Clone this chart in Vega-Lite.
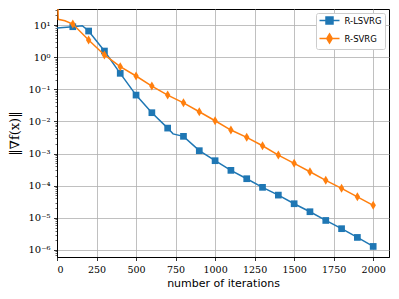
{
  "$schema": "https://vega.github.io/schema/vega-lite/v6.json",
  "width": 332,
  "height": 248,
  "autosize": {"type": "none"},
  "padding": {"left": 57, "top": 9, "right": 10, "bottom": 42},
  "background": "white",
  "config": {
    "view": {"stroke": "black", "strokeWidth": 1},
    "axis": {
      "domainColor": "black",
      "domainWidth": 1,
      "tickColor": "black",
      "tickSize": 3.5,
      "tickWidth": 0.8,
      "labelFont": "DejaVu Serif",
      "labelFontSize": 9.5,
      "labelColor": "black",
      "labelPadding": 3.5,
      "gridColor": "#b0b0b0",
      "gridWidth": 0.8,
      "titleFont": "DejaVu Sans",
      "titleFontSize": 11,
      "titleFontWeight": "normal",
      "titleColor": "black"
    }
  },
  "data": {
    "values": [
      {"series": "R-LSVRG", "iter": 0, "value": 8.07},
      {"series": "R-LSVRG", "iter": 100, "value": 8.85},
      {"series": "R-LSVRG", "iter": 160, "value": 9.5},
      {"series": "R-LSVRG", "iter": 200, "value": 6.5},
      {"series": "R-LSVRG", "iter": 300, "value": 1.55},
      {"series": "R-LSVRG", "iter": 400, "value": 0.314},
      {"series": "R-LSVRG", "iter": 500, "value": 0.066},
      {"series": "R-LSVRG", "iter": 600, "value": 0.0187},
      {"series": "R-LSVRG", "iter": 700, "value": 0.0062},
      {"series": "R-LSVRG", "iter": 734, "value": 0.0041},
      {"series": "R-LSVRG", "iter": 800, "value": 0.00344},
      {"series": "R-LSVRG", "iter": 900, "value": 0.00123},
      {"series": "R-LSVRG", "iter": 1000, "value": 0.0006},
      {"series": "R-LSVRG", "iter": 1100, "value": 0.0003},
      {"series": "R-LSVRG", "iter": 1200, "value": 0.000165},
      {"series": "R-LSVRG", "iter": 1300, "value": 0.000089},
      {"series": "R-LSVRG", "iter": 1400, "value": 0.000051},
      {"series": "R-LSVRG", "iter": 1500, "value": 0.0000275},
      {"series": "R-LSVRG", "iter": 1600, "value": 0.0000155},
      {"series": "R-LSVRG", "iter": 1700, "value": 0.0000083},
      {"series": "R-LSVRG", "iter": 1800, "value": 0.0000046},
      {"series": "R-LSVRG", "iter": 1900, "value": 0.00000246},
      {"series": "R-LSVRG", "iter": 2000, "value": 0.00000129},
      {"series": "R-SVRG", "iter": 0, "value": 300},
      {"series": "R-SVRG", "iter": 8, "value": 15},
      {"series": "R-SVRG", "iter": 50, "value": 13.5},
      {"series": "R-SVRG", "iter": 100, "value": 10.7},
      {"series": "R-SVRG", "iter": 200, "value": 3.4},
      {"series": "R-SVRG", "iter": 300, "value": 1.17},
      {"series": "R-SVRG", "iter": 400, "value": 0.505},
      {"series": "R-SVRG", "iter": 500, "value": 0.259},
      {"series": "R-SVRG", "iter": 600, "value": 0.126},
      {"series": "R-SVRG", "iter": 700, "value": 0.066},
      {"series": "R-SVRG", "iter": 800, "value": 0.038},
      {"series": "R-SVRG", "iter": 900, "value": 0.02},
      {"series": "R-SVRG", "iter": 1000, "value": 0.0105},
      {"series": "R-SVRG", "iter": 1100, "value": 0.0054},
      {"series": "R-SVRG", "iter": 1200, "value": 0.0032},
      {"series": "R-SVRG", "iter": 1300, "value": 0.00175},
      {"series": "R-SVRG", "iter": 1400, "value": 0.0009},
      {"series": "R-SVRG", "iter": 1500, "value": 0.000497},
      {"series": "R-SVRG", "iter": 1600, "value": 0.000272},
      {"series": "R-SVRG", "iter": 1700, "value": 0.000147},
      {"series": "R-SVRG", "iter": 1800, "value": 0.000083},
      {"series": "R-SVRG", "iter": 1900, "value": 0.000045},
      {"series": "R-SVRG", "iter": 2000, "value": 0.0000245}
    ]
  },
  "encoding": {
    "x": {
      "field": "iter",
      "type": "quantitative",
      "scale": {"domain": [0, 2100], "nice": false, "zero": false},
      "axis": {
        "values": [0, 250, 500, 750, 1000, 1250, 1500, 1750, 2000],
        "format": "d",
        "title": "number of iterations",
        "titlePadding": 4
      }
    },
    "y": {
      "field": "value",
      "type": "quantitative",
      "scale": {"type": "log", "domain": [6.05e-7, 31.5], "nice": false},
      "axis": {
        "values": [7e-7, 8e-7, 9e-7, 1e-6, 2e-6, 3e-6, 4e-6, 5e-6, 6e-6, 7e-6, 8e-6, 9e-6, 1e-5, 2e-5, 3e-5, 4e-5, 5e-5, 6e-5, 7e-5, 8e-5, 9e-5, 1e-4, 2e-4, 3e-4, 4e-4, 5e-4, 6e-4, 7e-4, 8e-4, 9e-4, 0.001, 0.002, 0.003, 0.004, 0.005, 0.006, 0.007, 0.008, 0.009, 0.01, 0.02, 0.03, 0.04, 0.05, 0.06, 0.07, 0.08, 0.09, 0.1, 0.2, 0.3, 0.4, 0.5, 0.6, 0.7, 0.8, 0.9, 1, 2, 3, 4, 5, 6, 7, 8, 9, 10, 20, 30],
        "labelExpr": "abs(log(datum.value)/LN10 - round(log(datum.value)/LN10)) > 0.001 ? '' : (round(log(datum.value)/LN10) == 1 ? '10¹' : round(log(datum.value)/LN10) == 0 ? '10⁰' : round(log(datum.value)/LN10) == -1 ? '10⁻¹' : round(log(datum.value)/LN10) == -2 ? '10⁻²' : round(log(datum.value)/LN10) == -3 ? '10⁻³' : round(log(datum.value)/LN10) == -4 ? '10⁻⁴' : round(log(datum.value)/LN10) == -5 ? '10⁻⁵' : '10⁻⁶')",
        "labelFontSize": 10,
        "gridOpacity": {"condition": {"test": "abs(log(datum.value)/LN10 - round(log(datum.value)/LN10)) < 0.001", "value": 1}, "value": 0},
        "tickSize": {"condition": {"test": "abs(log(datum.value)/LN10 - round(log(datum.value)/LN10)) < 0.001", "value": 3.5}, "value": 2},
        "tickWidth": {"condition": {"test": "abs(log(datum.value)/LN10 - round(log(datum.value)/LN10)) < 0.001", "value": 0.8}, "value": 0.6},
        "title": "‖∇f(x)‖",
        "titleFont": "DejaVu Serif",
        "titleFontSize": 13,
        "titlePadding": 6
      }
    },
    "color": {
      "field": "series",
      "type": "nominal",
      "scale": {"domain": ["R-LSVRG", "R-SVRG"], "range": ["#1f77b4", "#ff7f0e"]},
      "legend": {
        "title": null,
        "orient": "top-right",
        "offset": 4,
        "padding": 2.5,
        "rowPadding": 3,
        "fillColor": "white",
        "strokeColor": "#cccccc",
        "cornerRadius": 2,
        "labelFont": "DejaVu Sans",
        "labelFontSize": 8.5,
        "labelColor": "black",
        "labelOffset": 16,
        "symbolSize": 64,
        "symbolStrokeWidth": 1.5,
        "encode": {
          "symbols": {
            "update": {
              "shape": {"signal": "datum.value == 'R-LSVRG' ? 'M-1,0H4M0.625,-0.875H2.375V0.875H0.625Z' : 'M-1,0H4M1.5,-1.125L2.19,0L1.5,1.125L0.81,0Z'"},
              "fill": {"signal": "datum.value == 'R-LSVRG' ? '#1f77b4' : '#ff7f0e'"},
              "stroke": {"signal": "datum.value == 'R-LSVRG' ? '#1f77b4' : '#ff7f0e'"},
              "fillOpacity": {"value": 1},
              "strokeWidth": {"value": 1.5}
            }
          }
        }
      }
    }
  },
  "layer": [
    {
      "transform": [{"filter": "datum.series == 'R-LSVRG'"}],
      "mark": {"type": "line", "strokeWidth": 1.5, "clip": true}
    },
    {
      "transform": [{"filter": "datum.series == 'R-LSVRG' && datum.iter >= 100 && datum.iter % 100 == 0"}],
      "mark": {"type": "point", "shape": "square", "filled": true, "size": 45, "opacity": 1, "clip": true}
    },
    {
      "transform": [{"filter": "datum.series == 'R-SVRG'"}],
      "mark": {"type": "line", "strokeWidth": 1.5, "clip": true}
    },
    {
      "transform": [{"filter": "datum.series == 'R-SVRG' && datum.iter >= 100 && datum.iter % 100 == 0"}],
      "mark": {"type": "point", "shape": "M0,-1L0.6,0L0,1L-0.6,0Z", "filled": true, "size": 81, "opacity": 1, "clip": true}
    }
  ]
}
